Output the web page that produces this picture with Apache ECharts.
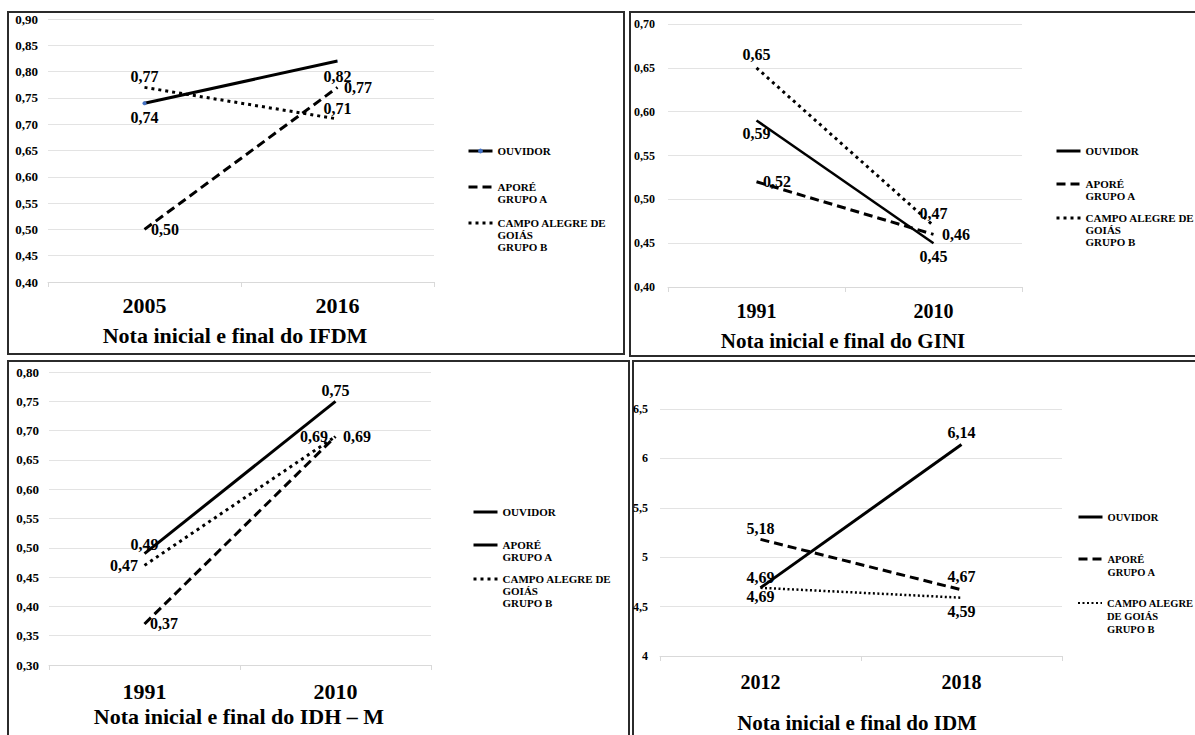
<!DOCTYPE html>
<html>
<head>
<meta charset="utf-8">
<script src="https://cdn.jsdelivr.net/npm/echarts@6/dist/echarts.min.js"></script>
<style>
  html, body { margin: 0; padding: 0; background: #fff; }
  #chart { width: 1195px; height: 735px; }
</style>
</head>
<body>
<div id="chart"></div>
<script>
// ---------------- DATA ----------------
const seriesNames = ['OUVIDOR', 'APORÉ\nGRUPO A', 'CAMPO ALEGRE DE\nGOIÁS\nGRUPO B'];
const seriesNamesIdm = ['OUVIDOR', 'APORÉ\nGRUPO A', 'CAMPO ALEGRE\nDE GOIÁS\nGRUPO B'];

const ifdmYears = ['2005', '2016'];
const ifdmOuvidor = [0.74, 0.82];
const ifdmApore = [0.50, 0.77];
const ifdmCampo = [0.77, 0.71];
const ifdmTitle = 'Nota inicial e final do IFDM';
const ifdmYMin = 0.40, ifdmYMax = 0.90, ifdmYStep = 0.05;

const giniYears = ['1991', '2010'];
const giniOuvidor = [0.59, 0.45];
const giniApore = [0.52, 0.46];
const giniCampo = [0.65, 0.47];
const giniTitle = 'Nota inicial e final do GINI';
const giniYMin = 0.40, giniYMax = 0.70, giniYStep = 0.05;

const idhmYears = ['1991', '2010'];
const idhmOuvidor = [0.49, 0.75];
const idhmApore = [0.37, 0.69];
const idhmCampo = [0.47, 0.69];
const idhmTitle = 'Nota inicial e final do IDH – M';
const idhmYMin = 0.30, idhmYMax = 0.80, idhmYStep = 0.05;

const idmYears = ['2012', '2018'];
const idmOuvidor = [4.69, 6.14];
const idmApore = [5.18, 4.67];
const idmCampo = [4.69, 4.59];
const idmTitle = 'Nota inicial e final do IDM';
const idmYMin = 4, idmYMax = 6.5, idmYStep = 0.5;

// ---------------- LAYOUT / STYLE ----------------
const FONT = "'Liberation Serif', 'Times New Roman', serif";
const W = 1195, H = 735;
const INVISIBLE = 'rgba(0,0,0,0)';

const panels = [
  { key: 'p1', years: ifdmYears, vals: [ifdmOuvidor, ifdmApore, ifdmCampo], names: seriesNames,
    yMin: ifdmYMin, yMax: ifdmYMax, yStep: ifdmYStep, dec: 2,
    grid: { left: 48, right: W - 434, top: 19, bottom: H - 282 },
    xFont: 22, xMargin: 12, yMargin: 10, yFont: 13,
    title: ifdmTitle, titleX: 235, titleY: 335, titleSize: 22,
    legendLeft: 467, legendTops: [151, 187, 223], legendLH: 12, legendFont: 11,
    lineW: [3, 3, 3], dotted: [3, 4],
    labels: [
      [{ position: 'bottom', distance: 4 }, { position: 'bottom', distance: 7 }],
      [{ position: 'right', distance: 6 }, { position: 'right', distance: 6 }],
      [{ position: 'top', distance: 2 }, { position: 'top', distance: 2 }]
    ],
    blueFirst: true },
  { key: 'p2', years: giniYears, vals: [giniOuvidor, giniApore, giniCampo], names: seriesNames,
    yMin: giniYMin, yMax: giniYMax, yStep: giniYStep, dec: 2,
    grid: { left: 668, right: W - 1022, top: 24, bottom: H - 287 },
    xFont: 20, xMargin: 14, yMargin: 13, yFont: 12,
    title: giniTitle, titleX: 843, titleY: 341, titleSize: 21,
    legendLeft: 1055, legendTops: [151, 184, 218], legendLH: 12, legendFont: 11,
    lineW: [2.5, 3, 3], dotted: [3, 4],
    labels: [
      [{ position: 'bottom', distance: 5 }, { position: 'bottom', distance: 5 }],
      [{ position: 'right', distance: 6 }, { position: 'right', distance: 8 }],
      [{ position: 'top', distance: 5 }, { position: 'top', distance: 4 }]
    ] },
  { key: 'p3', years: idhmYears, vals: [idhmOuvidor, idhmApore, idhmCampo], names: seriesNames,
    yMin: idhmYMin, yMax: idhmYMax, yStep: idhmYStep, dec: 2,
    grid: { left: 49, right: W - 431, top: 372, bottom: H - 665 },
    xFont: 22, xMargin: 15, yMargin: 10, yFont: 13,
    title: idhmTitle, titleX: 239, titleY: 716, titleSize: 22,
    legendLeft: 472, legendTops: [512, 545, 579], legendLH: 12, legendFont: 11,
    lineW: [3, 3, 3], dotted: [3, 4],
    aporeLegendSolid: true,
    labels: [
      [{ position: 'top', distance: 1 }, { position: 'top', distance: 2 }],
      [{ position: 'right', distance: 5 }, { position: 'right', distance: 7 }],
      [{ position: 'left', distance: 6 }, { position: 'left', distance: 7 }]
    ] },
  { key: 'p4', years: idmYears, vals: [idmOuvidor, idmApore, idmCampo], names: seriesNamesIdm,
    yMin: idmYMin, yMax: idmYMax, yStep: idmYStep, dec: -1,
    grid: { left: 660, right: W - 1062, top: 409, bottom: H - 656 },
    xFont: 20, xMargin: 16, yMargin: 12, yFont: 12,
    title: idmTitle, titleX: 857, titleY: 723, titleSize: 21,
    legendLeft: 1077, legendTops: [517, 559, 603], legendLH: 13, legendFont: 10.5,
    lineW: [3, 3, 2.5], dotted: [2, 2.5],
    labels: [
      [{ position: 'top', distance: 2 }, { position: 'top', distance: 4 }],
      [{ position: 'top', distance: 2 }, { position: 'top', distance: 5 }],
      [{ position: 'bottom', distance: 0 }, { position: 'bottom', distance: 5 }]
    ] }
];

const fmtComma = (v, dec) => (dec >= 0 ? v.toFixed(dec) : String(+v.toFixed(4))).replace('.', ',');

const option = {
  animation: false,
  backgroundColor: '#fff',
  grid: [], xAxis: [], yAxis: [], series: [], legend: [], graphic: []
};

panels.forEach((p, pi) => {
  option.grid.push(Object.assign({ containLabel: false, outerBoundsMode: 'none' }, p.grid));
  option.xAxis.push({
    type: 'category', gridIndex: pi, data: p.years, boundaryGap: true,
    axisLine: { show: true, lineStyle: { color: '#d9d9d9', width: 1 } },
    axisTick: { show: true, length: 5, lineStyle: { color: '#d9d9d9' } },
    axisLabel: { fontFamily: FONT, fontWeight: 'bold', fontSize: p.xFont, color: '#000', margin: p.xMargin },
    splitLine: { show: false }
  });
  option.yAxis.push({
    type: 'value', gridIndex: pi, min: p.yMin, max: p.yMax, interval: p.yStep,
    axisLine: { show: false }, axisTick: { show: false },
    axisLabel: { fontFamily: FONT, fontWeight: 'bold', fontSize: p.yFont, color: '#000', margin: p.yMargin,
                 formatter: v => fmtComma(v, p.dec) },
    splitLine: { show: true, lineStyle: { color: '#e3e3e3', width: 1 } }
  });
  const types = ['solid', [9, 5], p.dotted];
  p.names.forEach((nm, si) => {
    const sname = p.key + '|' + nm;
    const isBlue = si === 0 && p.blueFirst;
    const s = {
      type: 'line', name: sname, xAxisIndex: pi, yAxisIndex: pi,
      data: p.vals[si].map((v, i) => ({ value: v, label: p.labels[si][i] })),
      symbol: 'circle',
      symbolSize: isBlue ? ((val, prm) => (prm && prm.dataIndex === 0 ? 4 : 1)) : 1,
      showSymbol: true,
      lineStyle: { color: '#000', width: p.lineW[si], type: types[si], cap: 'butt' },
      itemStyle: { color: isBlue ? '#4472C4' : INVISIBLE, borderWidth: 0 },
      label: {
        show: true, fontFamily: FONT, fontWeight: 'bold', fontSize: 16, color: '#000',
        formatter: prm => fmtComma(prm.value, 2)
      },
      labelLayout: { hideOverlap: false },
      emphasis: { disabled: true },
      z: 3 - si
    };
    option.series.push(s);

    const nLines = nm.split('\n').length;
    const legendType = (si === 1 && p.aporeLegendSolid) ? 'solid' : types[si];
    const item = {
      name: sname,
      lineStyle: { type: legendType, width: si === 2 && p.key === 'p4' ? 2 : 3, color: '#000' },
      itemStyle: { color: isBlue ? '#4472C4' : INVISIBLE, borderWidth: 0 }
    };
    option.legend.push({
      orient: 'vertical', left: p.legendLeft,
      top: p.legendTops[si] - (2 * nLines - 1) * p.legendLH / 2,
      padding: 0, itemWidth: 24, itemHeight: 6, itemGap: 0,
      selectedMode: false,
      data: [item],
      formatter: n => '\n'.repeat(nLines - 1) + n.split('|')[1],
      textStyle: { fontFamily: FONT, fontWeight: 'bold', fontSize: p.legendFont, lineHeight: p.legendLH, color: '#000' }
    });
  });
  option.graphic.push({
    type: 'text', x: p.titleX, y: p.titleY, silent: true,
    style: { text: p.title, fontFamily: FONT, fontWeight: 'bold', fontSize: p.titleSize,
             fill: '#000', align: 'center', verticalAlign: 'middle' }
  });
});

// panel frames
[[8, 12, 616, 342], [630, 12, 600, 344], [8, 361, 621, 400], [633, 361, 600, 400]].forEach(r => {
  option.graphic.push({
    type: 'rect', silent: true, z: -1,
    shape: { x: r[0], y: r[1], width: r[2], height: r[3] },
    style: { fill: 'none', stroke: '#2b2b2b', lineWidth: 2 }
  });
});

const chart = echarts.init(document.getElementById('chart'), null, { renderer: 'svg', width: W, height: H });
chart.setOption(option);
</script>
</body>
</html>
